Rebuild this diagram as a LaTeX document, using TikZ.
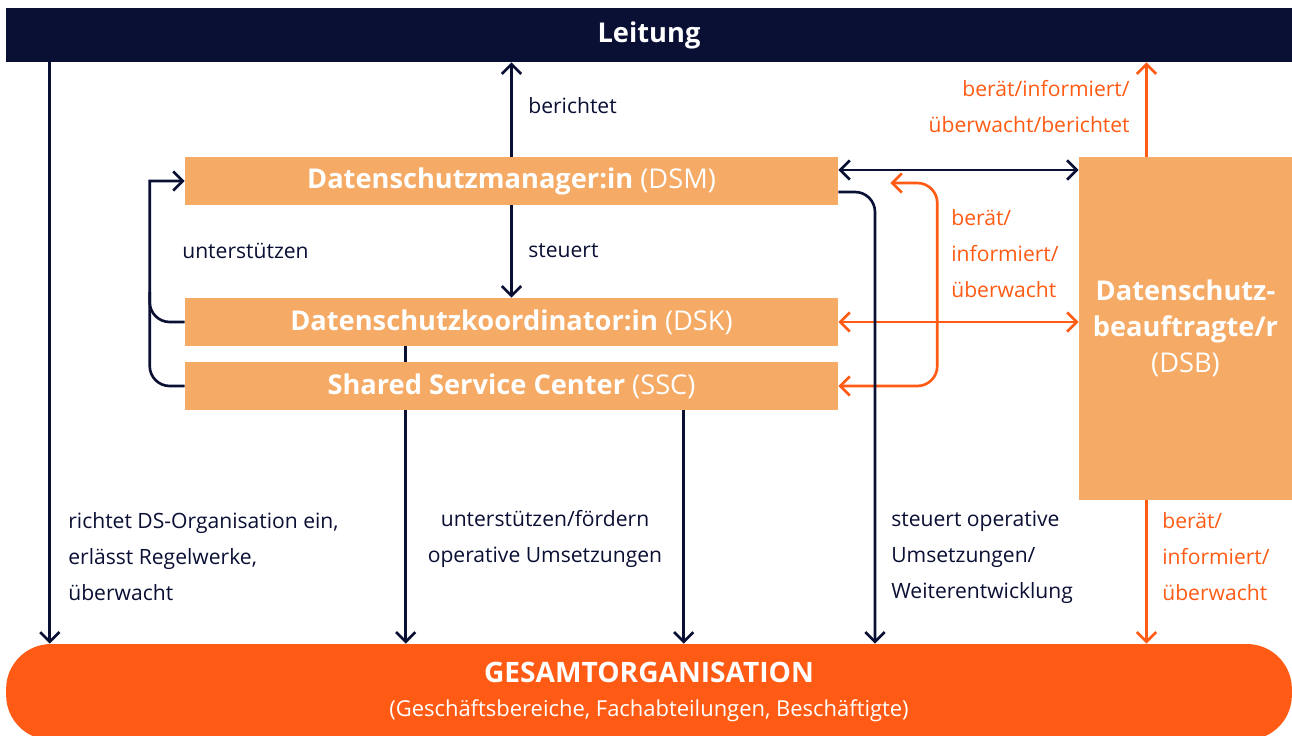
\documentclass[tikz,border=0pt]{standalone}
\usepackage{fontspec}
\setmainfont{Open Sans}
\usetikzlibrary{arrows.meta, calc, positioning}
\definecolor{navy}{RGB}{10,15,52}
\definecolor{lightorange}{RGB}{245,170,102}
\definecolor{brightorange}{RGB}{255,91,20}
\pgfdeclarelayer{background}
\pgfsetlayers{background,main}

\tikzset{
  bar/.style={fill=navy, text=white, inner sep=0pt, minimum width=25.72cm, minimum height=1.08cm, font=\fontsize{15.5}{20}\selectfont\bfseries},
  box/.style={fill=lightorange, text=white, inner sep=0pt, minimum width=13.06cm, minimum height=0.96cm, font=\fontsize{15.5}{20.5}\selectfont},
  pill/.style={fill=brightorange, text=white, inner sep=0pt, minimum width=25.72cm, minimum height=1.92cm, rounded corners=0.9cm, align=center},
  lbl/.style={inner sep=0pt, align=left, text=navy, font=\fontsize{12}{20.5}\selectfont},
  olbl/.style={lbl, text=brightorange},
  darr/.style={draw=navy, line width=1.5pt, ->},
  dline/.style={draw=navy, line width=1.5pt},
  oarr/.style={draw=brightorange, line width=1.5pt, ->},
  >={Straight Barb[length=5.5pt, width=11pt]}
}

\begin{document}
\begin{tikzpicture}[x=0.02cm, y=-0.02cm]
  \useasboundingbox (0,0) rectangle (1292,735);

  % boxes
  \node[bar] (leitung) at (649,35) {Leitung};
  \node[box] (dsm) at (511.5,181) {\textbf{Datenschutzmanager:in} (DSM)};
  \node[box] (dsk) at (511.5,322) {\textbf{Datenschutzkoordinator:in} (DSK)};
  \node[box] (ssc) at (511.5,386) {\textbf{Shared Service Center} (SSC)};
  \node[box, minimum width=4.26cm, minimum height=6.86cm, align=center] (dsb) at (1185.5,328.5)
    {\textbf{Datenschutz-}\\\textbf{beauftragte/r}\\(DSB)};
  \node[pill] (gesamt) at (649,692)
    {{\fontsize{16}{20}\selectfont\bfseries GESAMTORGANISATION}\\[7pt]
     {\fontsize{12.5}{20}\selectfont (Geschäftsbereiche, Fachabteilungen, Beschäftigte)}};

  % free ends
  \coordinate (dsmtop) at ($(dsm.east)+(0,-11)$);
  \coordinate (dsmout) at ($(dsm.east)+(0,11)$);
  \coordinate (oloop) at ($(dsm.east)+(52,2)$);
  \coordinate (dsbup) at ($(dsb.north)+(-39,0)$);
  \coordinate (dsbdown) at ($(dsb.south)+(-39,0)$);
  \coordinate (leitout) at ($(leitung.south west)+(44,0)$);
  \coordinate (dskout) at ($(dsk.south west)+(221,0)$);
  \coordinate (sscout) at ($(ssc.south west)+(499,0)$);

  % connectors
  \draw[darr] (dsm.north) -- (dsm.north |- leitung.south);
  \draw[darr] (dsm.south) -- (dsk.north);
  \draw[darr] (ssc.west) [rounded corners=0.4cm] -- ++(-35,0) -- ++(0,-80) [sharp corners] |- (dsm.west);
  \draw[dline] (dsk.west) [rounded corners=0.4cm] -- ++(-35,0) -- ++(0,-30);
  \draw[darr, <->] (dsmtop) -- (dsmtop -| dsb.west);
  \draw[oarr, <->] (dsk.east) -- (dsk.east -| dsb.west);
  \draw[oarr, <->, rounded corners=0.4cm] (oloop) -- ++(47,0) |- (ssc.east);
  \draw[darr, rounded corners=0.4cm] (dsmout) -| ($(gesamt.north)+(226,0)$);
  \draw[oarr] (dsbup) -- (dsbup |- leitung.south);
  \draw[oarr] (dsbdown) -- (dsbdown |- gesamt.north);
  \draw[darr] (leitout) -- (leitout |- gesamt.north);
  \begin{pgfonlayer}{background}
    \draw[darr] (dskout) -- (dskout |- gesamt.north);
  \end{pgfonlayer}
  \draw[darr] (sscout) -- (sscout |- gesamt.north);

  % labels
  \node[lbl, anchor=west] (lblberichtet) at (528,106) {berichtet};
  \node[lbl, anchor=west] (lblsteuert) at (528,251) {steuert};
  \node[lbl, anchor=west] (lblunterst) at (182,251) {unterstützen};
  \node[olbl, anchor=west] (lblberaet) at (951,254) {berät/\\informiert/\\überwacht};
  \node[olbl, anchor=east, align=right] (lblleitung) at (1130,107) {berät/informiert/\\überwacht/berichtet};
  \node[lbl, anchor=west] (lblrichtet) at (68,557) {richtet DS-Organisation ein,\\erlässt Regelwerke,\\überwacht};
  \node[lbl, align=center] (lblfoerdern) at (545,539) {unterstützen/fördern\\operative Umsetzungen};
  \node[lbl, anchor=west] (lbloperativ) at (891,557) {steuert operative\\Umsetzungen/\\Weiterentwicklung};
  \node[olbl, anchor=west] (lblunten) at (1162,557) {berät/\\informiert/\\überwacht};
\end{tikzpicture}
\end{document}
